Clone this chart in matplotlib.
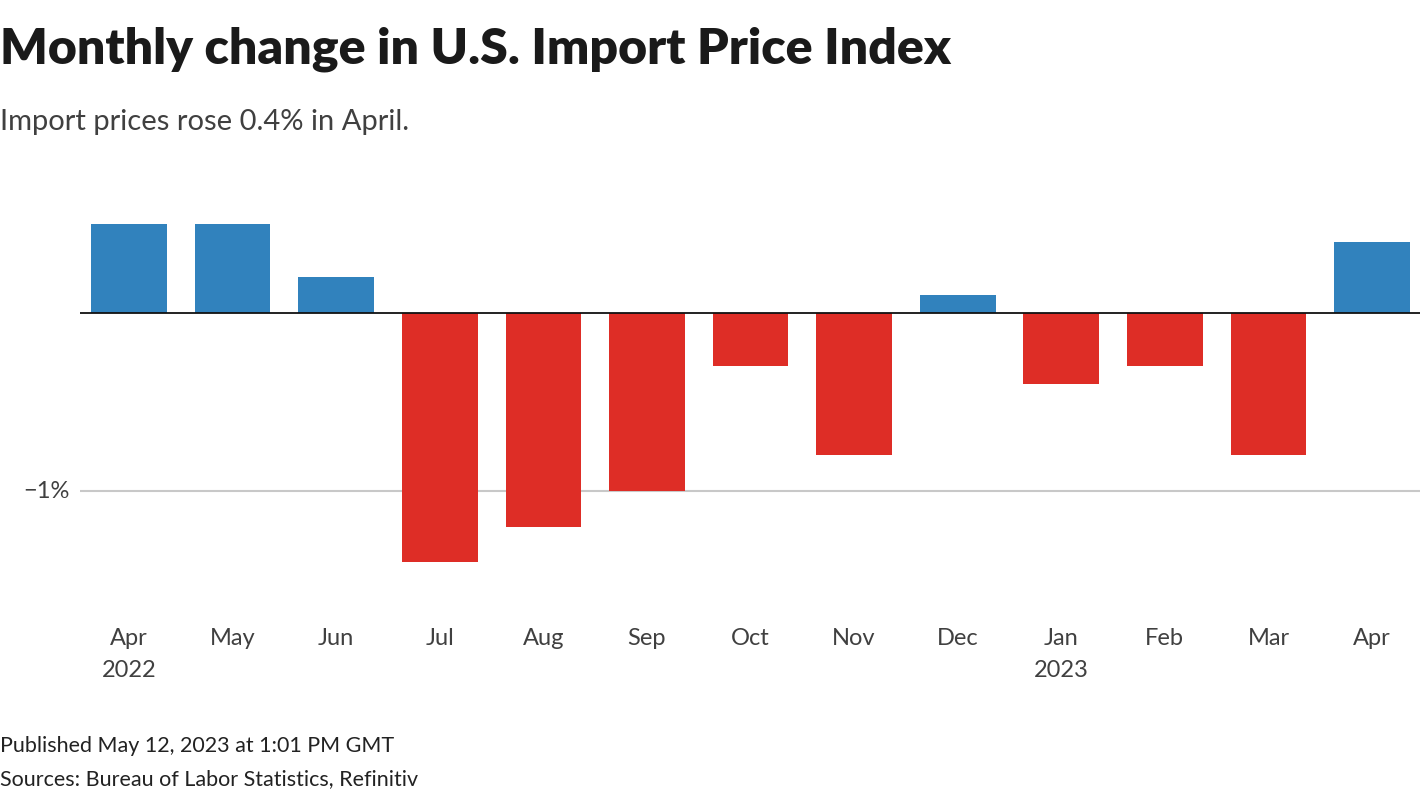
""" Monthly change in U.S. Import Price Index """

import numpy as np
import matplotlib.pyplot as plt

months = ["Apr", "May", "Jun", "Jul", "Aug", "Sep", "Oct",
          "Nov", "Dec", "Jan", "Feb", "Mar", "Apr"]
years = ["2022", "", "", "", "", "", "", "", "", "2023", "", "", ""]
changes = [0.5, 0.5, 0.2, -1.4, -1.2, -1.0, -0.3, -0.8, 0.1, -0.4, -0.3, -0.8, 0.4]

BLUE = "#3182bd"
RED = "#de2d26"
FONT = "Lato"

plt.rcParams["font.family"] = [FONT, "DejaVu Sans"]

fig = plt.figure(figsize=(14.2, 8), dpi=100)
ax = fig.add_axes([80 / 1420, 1 - 600 / 800, 1340 / 1420, 410 / 800])

x = np.arange(len(changes))
colors = [BLUE if v >= 0 else RED for v in changes]
ax.bar(x, changes, width=0.73, color=colors, zorder=2)

ax.set_xlim(-0.473, 12.463)
ax.set_ylim(-1.612, 0.69)

# gridline and zero line
ax.axhline(-1, color="#c8c8c8", lw=1.5, zorder=1)
ax.axhline(0, color="#111111", lw=1.3, zorder=3)

ax.set_yticks([])
ax.set_xticks(x)
labels = [m + ("\n" + y if y else "") for m, y in zip(months, years)]
ax.set_xticklabels(labels, fontsize=17, color="#404040",
                   linespacing=1.65, va="top")
ax.tick_params(axis="x", length=0, pad=20)
for s in ax.spines.values():
    s.set_visible(False)

fig.text(70 / 1420, 1 - 491 / 800, "\u22121%", ha="right", va="center",
         fontsize=17, color="#404040")

fig.text(0, 1 - 49 / 800, "Monthly change in U.S. Import Price Index",
         fontsize=36, fontweight="heavy", color="#1a1a1a", va="center")
fig.text(0, 1 - 122 / 800, "Import prices rose 0.4% in April.",
         fontsize=21, color="#404040", va="center")
fig.text(0, 1 - 746 / 800, "Published May 12, 2023 at 1:01 PM GMT",
         fontsize=15.5, color="#222222", va="center")
fig.text(0, 1 - 779 / 800, "Sources: Bureau of Labor Statistics, Refinitiv",
         fontsize=15.5, color="#222222", va="center")

fig.savefig("out.png", dpi=100)
